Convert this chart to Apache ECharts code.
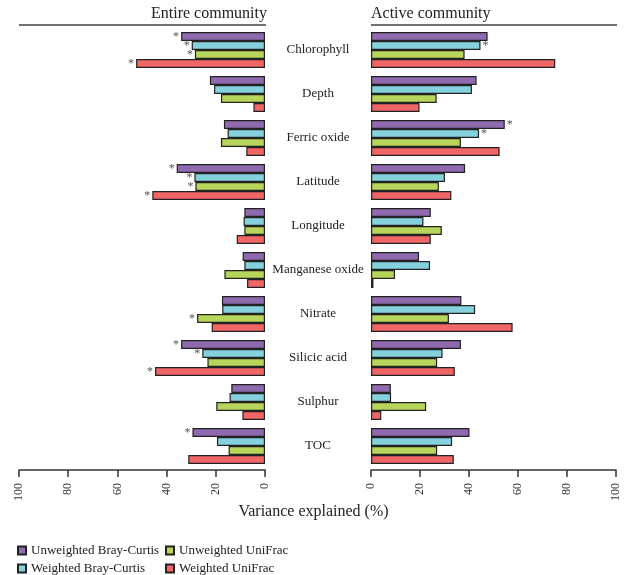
<!DOCTYPE html>
<html>
<head>
<meta charset="utf-8">
<script src="https://cdn.jsdelivr.net/npm/echarts@6/dist/echarts.min.js"></script>
<style>
    html, body { margin: 0; padding: 0; background: #fff; }
    #chart { width: 627px; height: 575px; }
</style>
</head>
<body>
<div id="chart"></div>
<script>
    let categories = ['Chlorophyll', 'Depth', 'Ferric oxide', 'Latitude', 'Longitude',
        'Manganese oxide', 'Nitrate', 'Silicic acid', 'Sulphur', 'TOC'];
    let seriesNames = ['Unweighted Bray-Curtis', 'Weighted Bray-Curtis', 'Unweighted UniFrac', 'Weighted UniFrac'];
    let colors = ['#8f6aae', '#85d2de', '#b6d55a', '#f06566'];
    let xTicks = [0, 20, 40, 60, 80, 100];

    // Entire community
    let entireUBC = [34.1, 22.4, 16.7, 35.9, 8.4, 9.1, 17.5, 34.1, 13.7, 29.5];
    let entireWBC = [29.8, 20.7, 15.2, 28.7, 8.7, 8.4, 17.4, 25.5, 14.4, 19.5];
    let entireUUF = [28.5, 17.9, 17.9, 28.3, 8.4, 16.5, 27.6, 23.4, 19.8, 14.8];
    let entireWUF = [52.4, 4.7, 7.6, 45.8, 11.5, 7.3, 21.7, 44.7, 9.2, 31.2];
    // Active community
    let activeUBC = [47.6, 43.1, 54.6, 38.4, 24.4, 19.6, 36.9, 36.7, 8.1, 40.2];
    let activeWBC = [44.7, 41.2, 44.1, 30.2, 21.4, 24.1, 42.5, 29.2, 8.2, 33.1];
    let activeUUF = [38.2, 26.8, 36.7, 27.7, 28.9, 9.8, 31.8, 27.0, 22.5, 27.0];
    let activeWUF = [75.2, 19.8, 52.5, 32.8, 24.4, 1.0, 57.8, 34.2, 4.2, 33.8];

    // significance (*), 1 = marked
    let entireSigUBC = [1, 0, 0, 1, 0, 0, 0, 1, 0, 1];
    let entireSigWBC = [1, 0, 0, 1, 0, 0, 0, 1, 0, 0];
    let entireSigUUF = [1, 0, 0, 1, 0, 0, 1, 0, 0, 0];
    let entireSigWUF = [1, 0, 0, 1, 0, 0, 0, 1, 0, 0];
    let activeSigUBC = [0, 0, 1, 0, 0, 0, 0, 0, 0, 0];
    let activeSigWBC = [1, 0, 1, 0, 0, 0, 0, 0, 0, 0];
    let activeSigUUF = [0, 0, 0, 0, 0, 0, 0, 0, 0, 0];
    let activeSigWUF = [0, 0, 0, 0, 0, 0, 0, 0, 0, 0];

    let font = 'Liberation Serif';

    function makeSeries(k, values, sig, gridIndex) {
        let side = gridIndex === 0 ? 'left' : 'right';
        return {
            name: seriesNames[k],
            type: 'bar',
            xAxisIndex: gridIndex,
            yAxisIndex: gridIndex,
            barWidth: 9,
            barGap: '0%',
            itemStyle: {color: colors[k], borderColor: '#222', borderWidth: 1.2},
            data: values.map(function (v, i) {
                if (!sig[i]) return v;
                return {
                    value: v,
                    label: {
                        show: true, formatter: '*', position: side, distance: 2,
                        color: '#555', fontSize: 12, fontFamily: font
                    }
                };
            })
        };
    }

    function xAxis(gridIndex) {
        return {
            type: 'value',
            gridIndex: gridIndex,
            min: xTicks[0],
            max: xTicks[xTicks.length - 1],
            interval: 20,
            inverse: gridIndex === 0,
            offset: 2,
            axisLine: {show: true, lineStyle: {color: '#333', width: 1.5}},
            axisTick: {show: true, length: 7, lineStyle: {color: '#333', width: 1.5}},
            splitLine: {show: false},
            axisLabel: {rotate: 90, margin: 13, fontSize: 12, color: '#333', fontFamily: font}
        };
    }

    let chart = echarts.init(document.getElementById('chart'));
    let option = {
        backgroundColor: '#fff',
        animation: false,
        title: [
            {text: 'Entire community', right: 360, top: 6, padding: 0,
                textStyle: {fontSize: 16, fontWeight: 'normal', color: '#222', fontFamily: font}},
            {text: 'Active community', left: 371, top: 6, padding: 0,
                textStyle: {fontSize: 16, fontWeight: 'normal', color: '#222', fontFamily: font}},
            {text: 'Variance explained (%)', left: 'center', top: 504, padding: 0,
                textStyle: {fontSize: 16, fontWeight: 'normal', color: '#222', fontFamily: font}}
        ],
        graphic: [
            {type: 'line', shape: {x1: 19, y1: 25, x2: 266, y2: 25}, style: {stroke: '#444', lineWidth: 1.5}},
            {type: 'line', shape: {x1: 371, y1: 25, x2: 617, y2: 25}, style: {stroke: '#444', lineWidth: 1.5}}
        ],
        legend: [
            {data: seriesNames.slice(0, 2), orient: 'vertical', left: 17, top: 544, itemGap: 5,
                padding: 0, icon: 'rect', itemWidth: 8, itemHeight: 8,
                textStyle: {fontSize: 13, color: '#222', fontFamily: font}},
            {data: seriesNames.slice(2, 4), orient: 'vertical', left: 165, top: 544, itemGap: 5,
                padding: 0, icon: 'rect', itemWidth: 8, itemHeight: 8,
                textStyle: {fontSize: 13, color: '#222', fontFamily: font}}
        ],
        grid: [
            {left: 19, right: 362, top: 28, bottom: 107},
            {left: 371, right: 11, top: 28, bottom: 107}
        ],
        xAxis: [xAxis(0), xAxis(1)],
        yAxis: [
            {
                type: 'category', gridIndex: 0, data: categories, inverse: true, position: 'right',
                axisLine: {show: false}, axisTick: {show: false},
                axisLabel: {align: 'center', margin: 53, fontSize: 13, color: '#222', fontFamily: font}
            },
            {
                type: 'category', gridIndex: 1, data: categories, inverse: true,
                axisLine: {show: false}, axisTick: {show: false}, axisLabel: {show: false}
            }
        ],
        series: [
            makeSeries(0, entireUBC, entireSigUBC, 0),
            makeSeries(1, entireWBC, entireSigWBC, 0),
            makeSeries(2, entireUUF, entireSigUUF, 0),
            makeSeries(3, entireWUF, entireSigWUF, 0),
            makeSeries(0, activeUBC, activeSigUBC, 1),
            makeSeries(1, activeWBC, activeSigWBC, 1),
            makeSeries(2, activeUUF, activeSigUUF, 1),
            makeSeries(3, activeWUF, activeSigWUF, 1)
        ]
    };
    chart.setOption(option);
</script>
</body>
</html>
